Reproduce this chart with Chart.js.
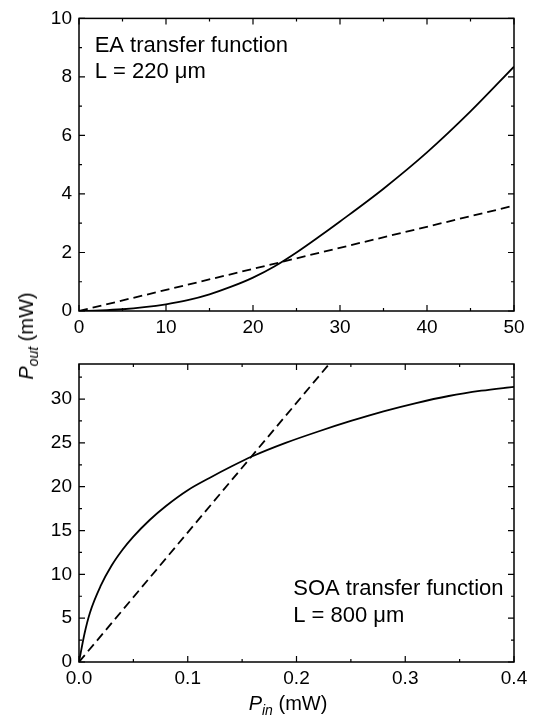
<!DOCTYPE html>
<html>
<head>
<meta charset="utf-8">
<script src="https://cdn.jsdelivr.net/npm/chart.js@4.4.1/dist/chart.umd.min.js"></script>
<style>
  body { margin: 0; background: #fff; }
  #wrap { position: relative; width: 534px; height: 720px; font-family: "Liberation Sans", Arial, sans-serif; color: #000; }
  canvas { position: absolute; left: 0; }
  #c1 { top: 0; }
  #c2 { top: 345px; }
  .axlabel { position: absolute; font-size: 20px; white-space: nowrap; line-height: 1; }
  .axlabel sub { font-size: 14px; font-style: italic; vertical-align: -5px; }
  #ylab { left: 28px; top: 336px; transform: translate(-50%, -50%) rotate(-90deg); }
  #xlab { left: 288px; top: 705px; transform: translate(-50%, -50%); }
</style>
</head>
<body>
<div id="wrap">
  <canvas id="c1" width="534" height="345"></canvas>
  <canvas id="c2" width="534" height="375"></canvas>
  <div class="axlabel" id="ylab"><i>P</i><sub>out</sub> (mW)</div>
  <div class="axlabel" id="xlab"><i>P</i><sub>in</sub> (mW)</div>
</div>
<script>
// top panel: EA transfer function
const eaPin = [0, 2.5, 5, 7.5, 10, 12.5, 15, 17.5, 20, 22.5, 25, 27.5, 30, 35, 40, 45, 50];
const eaPout = [0, 0.02, 0.06, 0.13, 0.23, 0.37, 0.57, 0.83, 1.14, 1.53, 2.0, 2.52, 3.06, 4.18, 5.42, 6.82, 8.35];
const eaRefPin = [0, 50];
const eaRefPout = [0, 3.6];
const eaXTicks = [0, 10, 20, 30, 40, 50];
const eaXLabels = ['0', '10', '20', '30', '40', '50'];
const eaYTicks = [0, 2, 4, 6, 8, 10];
const eaYLabels = ['0', '2', '4', '6', '8', '10'];

// bottom panel: SOA transfer function
const soaPin = [0, 0.005, 0.01, 0.02, 0.03, 0.04, 0.05, 0.065, 0.08, 0.1, 0.12, 0.14, 0.16, 0.19, 0.22, 0.25, 0.28, 0.31, 0.34, 0.37, 0.4];
const soaPout = [0, 3.2, 5.6, 8.7, 11.0, 12.8, 14.3, 16.2, 17.8, 19.6, 21.0, 22.3, 23.5, 25.0, 26.3, 27.5, 28.6, 29.55, 30.35, 30.95, 31.4];
const soaRefPin = [0, 0.23];
const soaRefPout = [0, 34];
const soaXTicks = [0, 0.1, 0.2, 0.3, 0.4];
const soaXLabels = ['0.0', '0.1', '0.2', '0.3', '0.4'];
const soaYTicks = [0, 5, 10, 15, 20, 25, 30];
const soaYLabels = ['0', '5', '10', '15', '20', '25', '30'];

const pts = (xs, ys) => xs.map((x, i) => ({ x: x, y: ys[i] }));
const tickFont = { family: '"Liberation Sans", Arial, sans-serif', size: 19 };

// frame with inward major/minor ticks on all four sides
const frameTicks = {
  id: 'frameTicks',
  afterDatasetsDraw(chart, args, o) {
    const { ctx, chartArea: a, scales } = chart;
    const sx = scales.x, sy = scales.y;
    ctx.save();
    ctx.strokeStyle = '#000';
    ctx.lineWidth = 1.2;
    ctx.beginPath();
    const marks = (scale, step, len) => {
      for (let v = scale.min; v <= scale.max + 1e-9; v += step) {
        if (scale.ticks.some(t => Math.abs(t.value - v) < 1e-9)) continue;
        const p = scale.getPixelForValue(v);
        if (scale.isHorizontal()) {
          ctx.moveTo(p, a.bottom); ctx.lineTo(p, a.bottom - len);
          ctx.moveTo(p, a.top); ctx.lineTo(p, a.top + len);
        } else {
          ctx.moveTo(a.left, p); ctx.lineTo(a.left + len, p);
          ctx.moveTo(a.right, p); ctx.lineTo(a.right - len, p);
        }
      }
    };
    sx.ticks.forEach(t => {
      const p = sx.getPixelForValue(t.value);
      ctx.moveTo(p, a.bottom); ctx.lineTo(p, a.bottom - 6);
      ctx.moveTo(p, a.top); ctx.lineTo(p, a.top + 6);
    });
    sy.ticks.forEach(t => {
      const p = sy.getPixelForValue(t.value);
      ctx.moveTo(a.left, p); ctx.lineTo(a.left + 6, p);
      ctx.moveTo(a.right, p); ctx.lineTo(a.right - 6, p);
    });
    marks(sx, o.xMinor, 3);
    marks(sy, o.yMinor, 3);
    ctx.stroke();
    ctx.lineWidth = 1.5;
    ctx.strokeRect(a.left, a.top, a.right - a.left, a.bottom - a.top);
    ctx.restore();
  }
};

// text notes placed in data coordinates
const notes = {
  id: 'notes',
  afterDraw(chart, args, o) {
    const { ctx, scales } = chart;
    ctx.save();
    ctx.fillStyle = '#000';
    ctx.font = '22px "Liberation Sans", Arial, sans-serif';
    ctx.textBaseline = 'alphabetic';
    o.items.forEach(n => {
      ctx.fillText(n.text, scales.x.getPixelForValue(n.x), scales.y.getPixelForValue(n.y));
    });
    ctx.restore();
  }
};

function panel(id, cfg) {
  return new Chart(document.getElementById(id), {
    type: 'line',
    data: {
      datasets: [
        { data: cfg.curve, borderColor: '#000', borderWidth: 1.8, pointRadius: 0, cubicInterpolationMode: 'monotone', fill: false },
        { data: cfg.ref, borderColor: '#000', borderWidth: 1.8, borderDash: [9, 5], pointRadius: 0, fill: false }
      ]
    },
    options: {
      responsive: false,
      animation: false,
      layout: { padding: { left: 0, right: 20, top: cfg.padTop, bottom: 0 } },
      plugins: {
        legend: { display: false },
        tooltip: { enabled: false },
        frameTicks: { xMinor: cfg.xMinor, yMinor: cfg.yMinor },
        notes: { items: cfg.notes }
      },
      scales: {
        x: {
          type: 'linear', min: cfg.xTicks[0], max: cfg.xTicks[cfg.xTicks.length - 1],
          grid: { display: false, drawTicks: false }, border: { display: false },
          ticks: { color: '#000', font: tickFont, padding: 5, maxRotation: 0, autoSkip: false,
                   callback: v => cfg.xLabels[cfg.xTicks.indexOf(v)] },
          afterBuildTicks: s => { s.ticks = cfg.xTicks.map(v => ({ value: v })); },
          afterFit: s => { s.height = cfg.xHeight; }
        },
        y: {
          type: 'linear', min: 0, max: cfg.yMax,
          grid: { display: false, drawTicks: false }, border: { display: false },
          ticks: { color: '#000', font: tickFont, padding: 7, autoSkip: false,
                   callback: v => cfg.yLabels[cfg.yTicks.indexOf(v)] },
          afterBuildTicks: s => { s.ticks = cfg.yTicks.map(v => ({ value: v })); },
          afterFit: s => { s.width = 79; }
        }
      }
    },
    plugins: [frameTicks, notes]
  });
}

panel('c1', {
  curve: pts(eaPin, eaPout), ref: pts(eaRefPin, eaRefPout),
  xTicks: eaXTicks, xLabels: eaXLabels, yTicks: eaYTicks, yLabels: eaYLabels,
  yMax: 10, xMinor: 5, yMinor: 1, padTop: 14, xHeight: 34,
  notes: [{ text: 'EA transfer function', x: 1.8, y: 8.85 }, { text: 'L = 220 \u03bcm', x: 1.8, y: 7.95 }]
});

panel('c2', {
  curve: pts(soaPin, soaPout), ref: pts(soaRefPin, soaRefPout),
  xTicks: soaXTicks, xLabels: soaXLabels, yTicks: soaYTicks, yLabels: soaYLabels,
  yMax: 34, xMinor: 0.05, yMinor: 2.5, padTop: 19, xHeight: 58,
  notes: [{ text: 'SOA transfer function', x: 0.197, y: 7.6 }, { text: 'L = 800 \u03bcm', x: 0.197, y: 4.6 }]
});
</script>
</body>
</html>
